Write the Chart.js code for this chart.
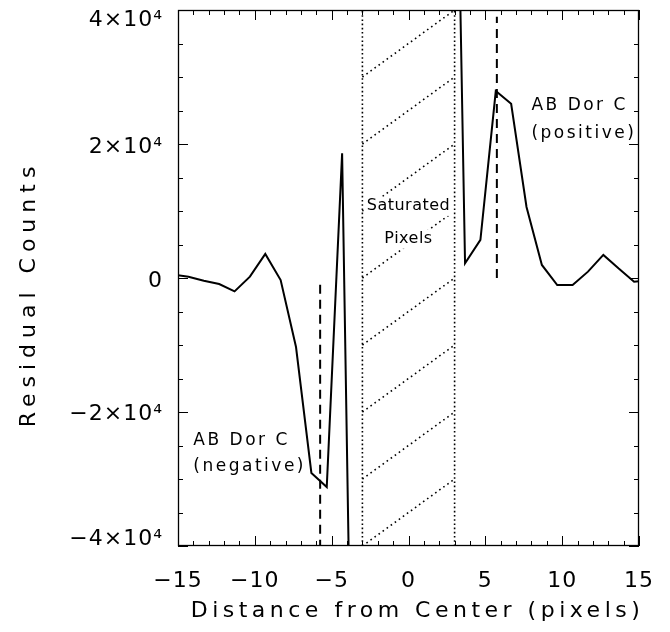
<!DOCTYPE html>
<html><head><meta charset="utf-8">
<script src="https://cdn.jsdelivr.net/npm/chart.js@4/dist/chart.umd.min.js"></script>
<style>html,body{margin:0;padding:0;background:#fff;}canvas{display:block;}</style>
</head><body>
<canvas id="c" width="670" height="632"></canvas>
<script>
// ---- data ----
const leftX = [-15.32,-14.32,-13.32,-12.32,-11.32,-10.32,-9.32,-8.32,-7.32,-6.32,-5.32,-4.32,-3.32];
const leftCounts = [500,200,-400,-900,-2000,200,3600,-300,-10300,-29100,-31200,18600,-121000];
const rightX = [2.68,3.68,4.68,5.68,6.68,7.68,8.68,9.68,10.68,11.68,12.68,13.68,14.68,15.68];
const rightCounts = [128000,2200,5700,27900,26000,10600,1950,-1050,-1050,950,3450,1400,-550,-300];
const companionX = [-5.75, 5.75];
const negDashCounts = [-1000, -40000];
const posDashCounts = [0, 39000];
const saturatedEdges = [-3, 3];
const hatchStartCounts = [-40000,-30000,-20000,-10000,0,10000,20000,30000];
const hatchEndCounts = [-30000,-20000,-10000,0,10000,20000,30000,40000];
const xTickValues = [-15,-10,-5,0,5,10,15];
const yTickLabels = {'-40000':'\u22124\u00d710\u2074','-20000':'\u22122\u00d710\u2074','0':'0','20000':'2\u00d710\u2074','40000':'4\u00d710\u2074'};

const FONT = '"DejaVu Sans", sans-serif';
const pts = (xs, ys) => xs.map((x, i) => ({x, y: ys[i]}));

const datasets = [];
hatchStartCounts.forEach((v, i) => {
  datasets.push({data: [{x: saturatedEdges[0], y: v}, {x: saturatedEdges[1], y: hatchEndCounts[i]}],
    borderColor: '#000', borderWidth: 1.6, borderDash: [1.6, 3.4], pointRadius: 0});
});
saturatedEdges.forEach(x => {
  datasets.push({data: [{x, y: -40000}, {x, y: 40000}], borderColor: '#000', borderWidth: 1.6, borderDash: [1.6, 2.6], pointRadius: 0});
});
datasets.push({label: 'left', data: pts(leftX, leftCounts), borderColor: '#000', borderWidth: 2, pointRadius: 0, tension: 0});
datasets.push({label: 'right', data: pts(rightX, rightCounts), borderColor: '#000', borderWidth: 2, pointRadius: 0, tension: 0});
datasets.push({data: [{x: companionX[0], y: negDashCounts[0]}, {x: companionX[0], y: negDashCounts[1]}], borderColor: '#000', borderWidth: 2, borderDash: [9, 6], pointRadius: 0});
datasets.push({data: [{x: companionX[1], y: posDashCounts[0]}, {x: companionX[1], y: posDashCounts[1]}], borderColor: '#000', borderWidth: 2, borderDash: [9, 6], pointRadius: 0});

const notes = [
  {text: 'AB Dor C', x: -14.0, y: -24200, size: 17, align: 'left', bg: false},
  {text: '(negative)', x: -14.0, y: -28200, size: 17, align: 'left', bg: false},
  {text: 'AB Dor C', x: 8.0, y: 25800, size: 17, align: 'left', bg: false},
  {text: '(positive)', x: 8.0, y: 21600, size: 17, align: 'left', bg: false},
  {text: 'Saturated', x: 0, y: 10700, size: 16, align: 'center', bg: true},
  {text: 'Pixels', x: 0, y: 5800, size: 16, align: 'center', bg: true}
];

// vertical nudges (px) of y tick labels, as placed in the reference
const yLabelShift = {'40000': 10, '20000': 3, '0': 3, '-20000': 2, '-40000': -7};
const titleStyle = {x: {spacing: '4.5px', dx: 9, dy: 0}, y: {spacing: '6px', dx: 0, dy: 16}};

const spacingPlugin = {
  id: 'spacing',
  beforeDraw(chart) {
    Object.values(chart.scales).forEach(s => {
      if (s._wrapped) return;
      s._wrapped = true;
      const t = s.drawTitle, l = s.drawLabels, comp = s._computeLabelItems;
      const st = titleStyle[s.id];
      s.drawTitle = function () { const c = this.ctx; c.save(); c.letterSpacing = st.spacing; c.translate(st.dx, st.dy); t.apply(this, arguments); c.restore(); };
      s.drawLabels = function () { const c = this.ctx; c.save(); c.letterSpacing = '1px'; l.apply(this, arguments); c.restore(); };
      if (s.id === 'y') {
        s._computeLabelItems = function (ca) {
          const items = comp.call(this, ca);
          items.forEach((it, i) => {
            const tk = this.ticks[i];
            const d = tk ? (yLabelShift[String(tk.value)] || 0) : 0;
            it.options.translation = [it.options.translation[0], it.options.translation[1] + d];
          });
          return items;
        };
        s._labelItems = null;
      }
    });
  }
};

const notePlugin = {
  id: 'notes',
  afterDatasetsDraw(chart) {
    const {ctx, scales: {x, y}} = chart;
    ctx.save();
    notes.forEach(n => {
      ctx.font = n.size + 'px ' + FONT;
      ctx.letterSpacing = n.bg ? '0.5px' : '2.5px';
      ctx.textAlign = n.align;
      ctx.textBaseline = 'middle';
      const px = x.getPixelForValue(n.x), py = y.getPixelForValue(n.y);
      if (n.bg) {
        const w = ctx.measureText(n.text).width;
        ctx.fillStyle = '#fff';
        ctx.fillRect(px - w / 2 - 3, py - n.size * 0.6, w + 6, n.size * 1.2);
      }
      ctx.fillStyle = '#000';
      ctx.fillText(n.text, px, py);
    });
    ctx.restore();
  }
};

const framePlugin = {
  id: 'frame',
  afterDraw(chart) {
    const {ctx, chartArea: a, scales: {x, y}} = chart;
    ctx.save();
    ctx.strokeStyle = '#000';
    ctx.lineWidth = 1.3;
    ctx.strokeRect(a.left + 0.5, a.top + 0.5, a.right - a.left - 1, a.bottom - a.top - 1);
    ctx.lineWidth = 1;
    ctx.beginPath();
    for (let v = x.min; v <= x.max; v += 1) {
      const px = Math.round(x.getPixelForValue(v)) + 0.5;
      const len = (v % 5 === 0) ? 10 : 5;
      ctx.moveTo(px, a.bottom); ctx.lineTo(px, a.bottom - len);
      ctx.moveTo(px, a.top); ctx.lineTo(px, a.top + len);
    }
    for (let v = y.min; v <= y.max; v += 5000) {
      const py = Math.round(y.getPixelForValue(v)) + 0.5;
      const len = (v % 20000 === 0) ? 10 : 5;
      ctx.moveTo(a.left, py); ctx.lineTo(a.left + len, py);
      ctx.moveTo(a.right, py); ctx.lineTo(a.right - len, py);
    }
    ctx.stroke();
    ctx.restore();
  }
};

new Chart(document.getElementById('c'), {
  type: 'line',
  data: {datasets},
  options: {
    responsive: false,
    animation: false,
    events: [],
    layout: {padding: {top: 10, right: 31, left: 0, bottom: 0}},
    plugins: {legend: {display: false}, tooltip: {enabled: false}},
    scales: {
      x: {
        type: 'linear', min: -15, max: 15,
        afterBuildTicks(s) { s.ticks = xTickValues.map(v => ({value: v})); },
        ticks: {color: '#000', font: {family: FONT, size: 22}, padding: 14, maxRotation: 0,
          callback: v => (v < 0 ? '\u2212' + Math.abs(v) : String(v))},
        grid: {display: false}, border: {display: false},
        title: {display: true, text: 'Distance from Center (pixels)', color: '#000', font: {family: FONT, size: 22}, padding: {top: 0, bottom: 8}},
        afterFit(s) { s.height = 86; s.paddingLeft = 0; s.paddingRight = 0; }
      },
      y: {
        type: 'linear', min: -40000, max: 40000,
        afterBuildTicks(s) { s.ticks = Object.keys(yTickLabels).map(k => ({value: Number(k)})); },
        ticks: {color: '#000', font: {family: FONT, size: 22}, padding: 7,
          callback: v => yTickLabels[String(v)]},
        grid: {display: false}, border: {display: false},
        title: {display: true, text: 'Residual Counts', color: '#000', font: {family: FONT, size: 22}, padding: {top: 16, bottom: 0}},
        afterFit(s) { s.width = 178; s.paddingTop = 0; s.paddingBottom = 0; }
      }
    }
  },
  plugins: [spacingPlugin, notePlugin, framePlugin]
});
</script>
</body></html>
